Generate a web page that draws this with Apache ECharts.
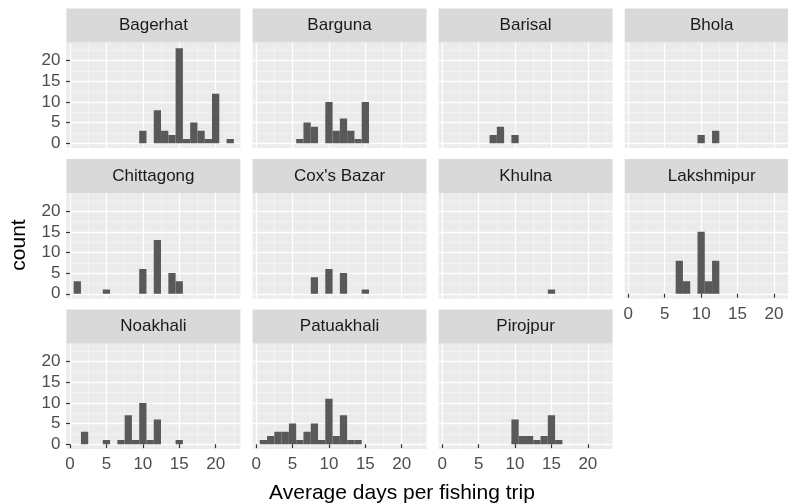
<!DOCTYPE html>
<html><head><meta charset="utf-8">
<script src="https://cdn.jsdelivr.net/npm/echarts@6/dist/echarts.min.js"></script>
<style>html,body{margin:0;padding:0;background:#fff}#c{width:788px;height:504px}</style>
</head><body><div id="c"></div>
<script>
// ---- data ----
const days = [1,2,3,4,5,6,7,8,9,10,11,12,13,14,15,16,17,18,19,20,21,22];
const districts = ["Bagerhat","Barguna","Barisal","Bhola","Chittagong","Cox's Bazar","Khulna","Lakshmipur","Noakhali","Patuakhali","Pirojpur"];
const bagerhat   = [0,0,0,0,0,0,0,0,0,3,0,8,3,2,23,1,5,3,1,12,0,1];
const barguna    = [0,0,0,0,0,1,5,4,0,10,3,6,3,1,10,0,0,0,0,0,0,0];
const barisal    = [0,0,0,0,0,0,2,4,0,2,0,0,0,0,0,0,0,0,0,0,0,0];
const bhola      = [0,0,0,0,0,0,0,0,0,2,0,3,0,0,0,0,0,0,0,0,0,0];
const chittagong = [3,0,0,0,1,0,0,0,0,6,0,13,0,5,3,0,0,0,0,0,0,0];
const coxsBazar  = [0,0,0,0,0,0,0,4,0,6,0,5,0,0,1,0,0,0,0,0,0,0];
const khulna     = [0,0,0,0,0,0,0,0,0,0,0,0,0,0,1,0,0,0,0,0,0,0];
const lakshmipur = [0,0,0,0,0,0,8,3,0,15,3,8,0,0,0,0,0,0,0,0,0,0];
const noakhali   = [0,3,0,0,1,0,1,7,1,10,1,6,0,0,1,0,0,0,0,0,0,0];
const patuakhali = [1,2,3,3,5,1,3,5,1,11,2,7,1,1,0,0,0,0,0,0,0,0];
const pirojpur   = [0,0,0,0,0,0,0,0,0,6,2,2,1,2,7,1,0,0,0,0,0,0];
const xTicks = [0,5,10,15,20];
const xMinor = [2.5,7.5,12.5,17.5,22.5];
const yTicks = [0,5,10,15,20];
const yMinor = [2.5,7.5,12.5,17.5,22.5];
const xTitle = "Average days per fishing trip";
const yTitle = "count";
const binWidth = 1;

const counts = [bagerhat,barguna,barisal,bhola,chittagong,coxsBazar,khulna,lakshmipur,noakhali,patuakhali,pirojpur];

// ---- layout ----
const nCols = 4;
const left0 = 66.4, colStep = 186.1, panelW = 174;
const top0 = 42.5, rowStep = 150.5, panelH = 105.5, stripH = 34;
const xMin = -0.5, xMax = 23.4, yMin = -1.15, yMax = 24.4;
const font = "Liberation Sans, Arial, Helvetica, sans-serif";

const grid = [], xAxis = [], yAxis = [], series = [], graphic = [];
districts.forEach((name, i) => {
  const r = Math.floor(i / nCols), c = i % nCols;
  const L = left0 + c * colStep, T = top0 + r * rowStep;
  const showX = i + nCols >= districts.length;
  const showY = c === 0;
  grid.push({left: L, top: T, width: panelW, height: panelH, show: true,
    backgroundColor: '#EBEBEB', borderWidth: 0, containLabel: false, outerBoundsMode: 'none'});
  xAxis.push({type: 'value', gridIndex: i, min: xMin, max: xMax,
    axisLine: {show: false},
    axisTick: {show: showX, length: 4, customValues: xTicks, lineStyle: {color: '#333333', width: 1.2}},
    axisLabel: {show: showX, customValues: xTicks, margin: 7, color: '#4D4D4D', fontSize: 17, fontFamily: font},
    splitLine: {show: true, lineStyle: {color: '#FFFFFF', width: 1.3}}, z: 2});
  xAxis.push({type: 'value', gridIndex: i, min: xMin, max: xMax,
    axisLine: {show: false}, axisTick: {show: false, customValues: xMinor}, axisLabel: {show: false},
    splitLine: {show: true, lineStyle: {color: '#F7F7F7', width: 0.7}}, z: 1});
  yAxis.push({type: 'value', gridIndex: i, min: yMin, max: yMax,
    axisLine: {show: false},
    axisTick: {show: showY, length: 4, customValues: yTicks, lineStyle: {color: '#333333', width: 1.2}},
    axisLabel: {show: showY, customValues: yTicks, margin: 6, color: '#4D4D4D', fontSize: 17, fontFamily: font},
    splitLine: {show: true, lineStyle: {color: '#FFFFFF', width: 1.3}}, z: 2});
  yAxis.push({type: 'value', gridIndex: i, min: yMin, max: yMax,
    axisLine: {show: false}, axisTick: {show: false, customValues: yMinor}, axisLabel: {show: false},
    splitLine: {show: true, lineStyle: {color: '#F7F7F7', width: 0.7}}, z: 1});
  series.push({type: 'custom', xAxisIndex: 2 * i, yAxisIndex: 2 * i, clip: true, z: 5,
    data: days.map((d, k) => [d, counts[i][k]]).filter(v => v[1] > 0),
    renderItem: function (params, api) {
      const x = api.value(0), y = api.value(1);
      const p0 = api.coord([x - binWidth / 2, 0]);
      const p1 = api.coord([x + binWidth / 2, y]);
      return {type: 'rect', shape: {x: p0[0], y: p1[1], width: p1[0] - p0[0], height: p0[1] - p1[1]},
        style: {fill: '#595959'}};
    }});
  graphic.push({type: 'rect', left: L, top: T - stripH, shape: {width: panelW, height: stripH},
    style: {fill: '#D9D9D9'}, z: 10});
  graphic.push({type: 'text', x: L + panelW / 2, y: T - stripH / 2,
    style: {text: name, fill: '#1A1A1A', font: '17px ' + font, align: 'center', verticalAlign: 'middle'}, z: 11});
});
graphic.push({type: 'text', x: 402, y: 493,
  style: {text: xTitle, fill: '#000', font: '21px ' + font, align: 'center', verticalAlign: 'middle'}});
graphic.push({type: 'text', x: 19.5, y: 245, rotation: Math.PI / 2,
  style: {text: yTitle, fill: '#000', font: '21px ' + font, align: 'center', verticalAlign: 'middle'}});

const chart = echarts.init(document.getElementById('c'), null, {renderer: 'canvas'});
chart.setOption({animation: false, backgroundColor: '#fff', grid, xAxis, yAxis, series, graphic});
</script></body></html>
